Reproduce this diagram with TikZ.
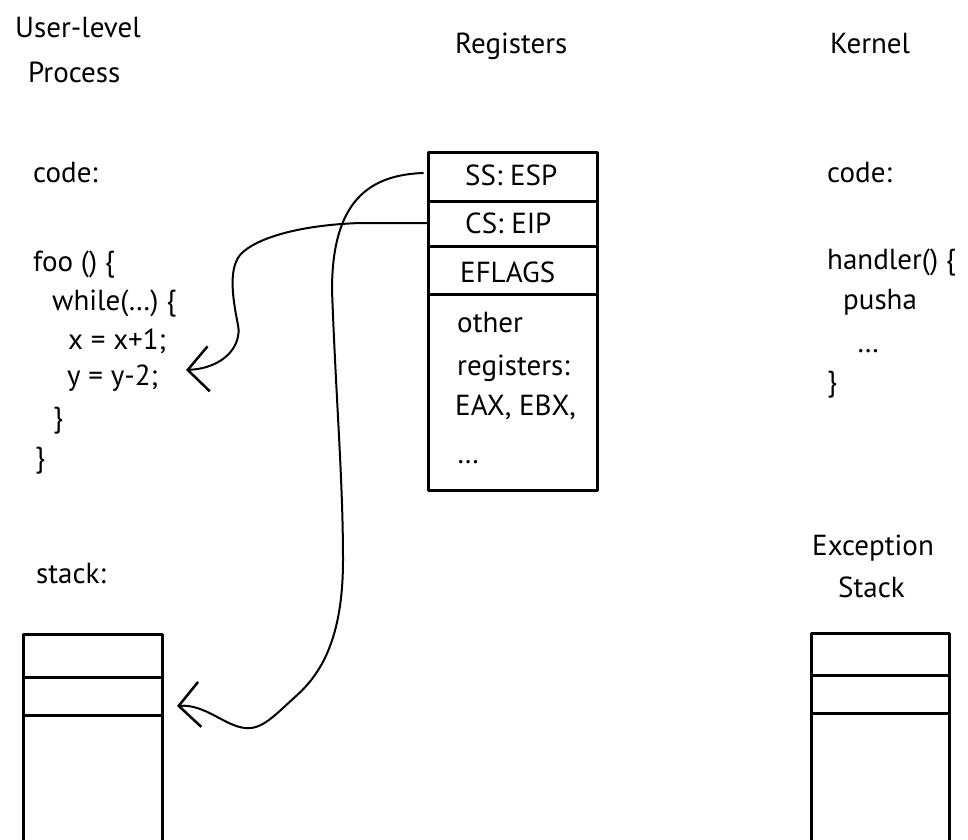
\documentclass[tikz,border=0pt]{standalone}
\usepackage{fontspec}
\setmainfont{PT Sans}
\usetikzlibrary{arrows.meta}
\begin{document}
\begin{tikzpicture}[x=1pt,y=-1pt,
  lbl/.style={inner sep=0pt, anchor=base west, font=\fontsize{29}{35}\selectfont},
  boxline/.style={line width=3pt, line join=round},
  conn/.style={line width=2pt, line cap=round, -{Straight Barb[length=21pt,width=45pt,line width=2.5pt]}}]
\useasboundingbox (0,0) rectangle (968,839);

% titles
\node[lbl] (t1) at (15,37) {User-level};
\node[lbl] (t2) at (28,82) {Process};
\node[lbl] (t3) at (455,53) {Registers};
\node[lbl] (t4) at (830,53) {Kernel};

% user code
\node[lbl] (uc) at (33,182) {code:};
\node[lbl] (u1) at (33,271) {foo () \{};
\node[lbl] (u2) at (52,310) {while(…) \{};
\node[lbl] (u3) at (68,349) {x = x+1;};
\node[lbl] (u4) at (67,385) {y = y-2;};
\node[lbl] (u5) at (53,427) {\}};
\node[lbl] (u6) at (35,467) {\}};
\node[lbl] (us) at (36,583) {stack:};

% kernel code
\node[lbl] (kc) at (827,182) {code:};
\node[lbl] (k1) at (827,269) {handler() \{};
\node[lbl] (k2) at (843,309) {pusha};
\node[lbl] (k3) at (857,352) {…};
\node[lbl] (k4) at (827,391) {\}};
\node[lbl] (ke) at (812,555) {Exception};
\node[lbl] (ks) at (838,597) {Stack};

% registers box
\draw[boxline] (428,152) rectangle (597,490);
\draw[boxline] (428,201) -- (597,201);
\draw[boxline] (428,246) -- (597,246);
\draw[boxline] (428,294) -- (597,294);
\node[lbl] (r1) at (465,185) {SS: ESP};
\node[lbl] (r2) at (465,233) {CS: EIP};
\node[lbl] (r3) at (460,282) {EFLAGS};
\node[lbl] (r4) at (457,332) {other};
\node[lbl] (r5) at (457,375) {registers:};
\node[lbl] (r6) at (455,415) {EAX, EBX,};
\node[lbl] (r7) at (457,463) {…};

% user stack
\draw[boxline] (23,850) -- (23,634) -- (162,634) -- (162,850);
\draw[boxline] (23,677) -- (162,677);
\draw[boxline] (23,715) -- (162,715);

% exception stack
\draw[boxline] (811,850) -- (811,633) -- (949,633) -- (949,850);
\draw[boxline] (811,675) -- (949,675);
\draw[boxline] (811,713) -- (949,713);

% connector anchors
\coordinate (ssL) at (423,173);
\coordinate (csL) at (428,223);
\coordinate (codeT) at (186,370);
\coordinate (stackT) at (177,706);

% SS:ESP -> user stack
\draw[conn] (ssL) .. controls (370,175) and (332,200) .. (332,290)
  .. controls (336,400) and (343,480) .. (343,560)
  .. controls (343,640) and (320,675) .. (295,697)
  .. controls (275,715) and (262,730) .. (245,728)
  .. controls (225,726) and (205,704) .. (stackT);

% CS:EIP -> user code
\draw[conn] (csL) -- (360,223)
  .. controls (300,225) and (255,238) .. (240,255)
  .. controls (228,270) and (233,300) .. (238,325)
  .. controls (242,345) and (225,368) .. (codeT);
\end{tikzpicture}
\end{document}
